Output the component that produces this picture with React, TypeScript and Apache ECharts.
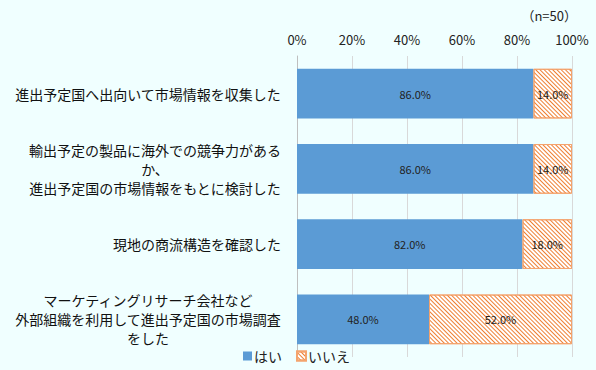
import React, { useEffect, useRef } from "react";
import * as echarts from "echarts";

const categories = [
  "進出予定国へ出向いて市場情報を収集した",
  "輸出予定の製品に海外での競争力がある\nか、\n進出予定国の市場情報をもとに検討した",
  "現地の商流構造を確認した",
  "マーケティングリサーチ会社など\n外部組織を利用して進出予定国の市場調査\nをした",
];
const yesValues = [86.0, 86.0, 82.0, 48.0];
const noValues = [14.0, 14.0, 18.0, 52.0];
const seriesNames = ["はい", "いいえ"];
const sampleNote = "（n=50）";

const FONT = "'Noto Sans CJK JP', 'Noto Sans', sans-serif";

export default function App() {
  const ref = useRef<HTMLDivElement>(null);
  useEffect(() => {
    if (!ref.current) return;
    const chart = echarts.init(ref.current, null, { renderer: "svg" });
    chart.setOption({
      animation: false,
      backgroundColor: "#F0FFFF",
      textStyle: { fontFamily: FONT },
      title: {
        text: sampleNote,
        right: 14,
        top: 4,
        textStyle: { fontSize: 13, fontWeight: "normal", color: "#222", fontFamily: FONT },
      },
      legend: {
        left: 238,
        bottom: 2,
        itemWidth: 9,
        itemHeight: 9,
        itemGap: 14,
        icon: "rect",
        textStyle: { fontSize: 14, color: "#222", fontFamily: FONT, padding: [0, 0, 0, -3] },
        data: seriesNames,
      },
      grid: { left: 297, right: 24, top: 56, bottom: 13, containLabel: false },
      xAxis: {
        type: "value",
        position: "top",
        min: 0,
        max: 100,
        interval: 20,
        axisLine: { show: false },
        axisTick: { show: false },
        axisLabel: { formatter: "{value}%", fontSize: 13, color: "#222", margin: 10, fontFamily: FONT },
        splitLine: { show: true, lineStyle: { color: "#D9D9D9", width: 1 } },
      },
      yAxis: {
        type: "category",
        inverse: true,
        data: categories,
        axisLine: { show: true, lineStyle: { color: "#BFBFBF" } },
        axisTick: { show: false },
        axisLabel: {
          margin: 16,
          align: "right",
          formatter: (v: string) => v.split("\n").map((l) => `{c|${l}}`).join("\n"),
          rich: {
            c: { align: "center", fontSize: 14, lineHeight: 19, color: "#111", fontFamily: FONT },
          },
        },
      },
      series: [
        {
          name: seriesNames[0],
          type: "bar",
          stack: "t",
          barWidth: "66%",
          data: yesValues,
          itemStyle: { color: "#5B9BD5" },
          label: {
            show: true,
            position: "inside",
            formatter: (p: any) => p.value.toFixed(1) + "%",
            fontSize: 11,
            color: "#222",
            fontFamily: FONT,
          },
        },
        {
          name: seriesNames[1],
          type: "bar",
          stack: "t",
          barWidth: "66%",
          data: noValues,
          itemStyle: {
            color: "#FFFFFF",
            borderColor: "#F4A46E",
            borderWidth: 1,
            decal: {
              symbol: "rect",
              color: "#EE7F32",
              dashArrayX: [1, 0],
              dashArrayY: [1, 1.5],
              rotation: Math.PI / 4,
              symbolSize: 1,
            },
          },
          label: {
            show: true,
            position: "inside",
            formatter: (p: any) => p.value.toFixed(1) + "%",
            fontSize: 11,
            color: "#222",
            fontFamily: FONT,
          },
        },
      ],
    });
    return () => chart.dispose();
  }, []);
  return (
    <div
      ref={ref}
      style={{ position: "fixed", left: 0, top: 0, width: 596, height: 370 }}
    />
  );
}
